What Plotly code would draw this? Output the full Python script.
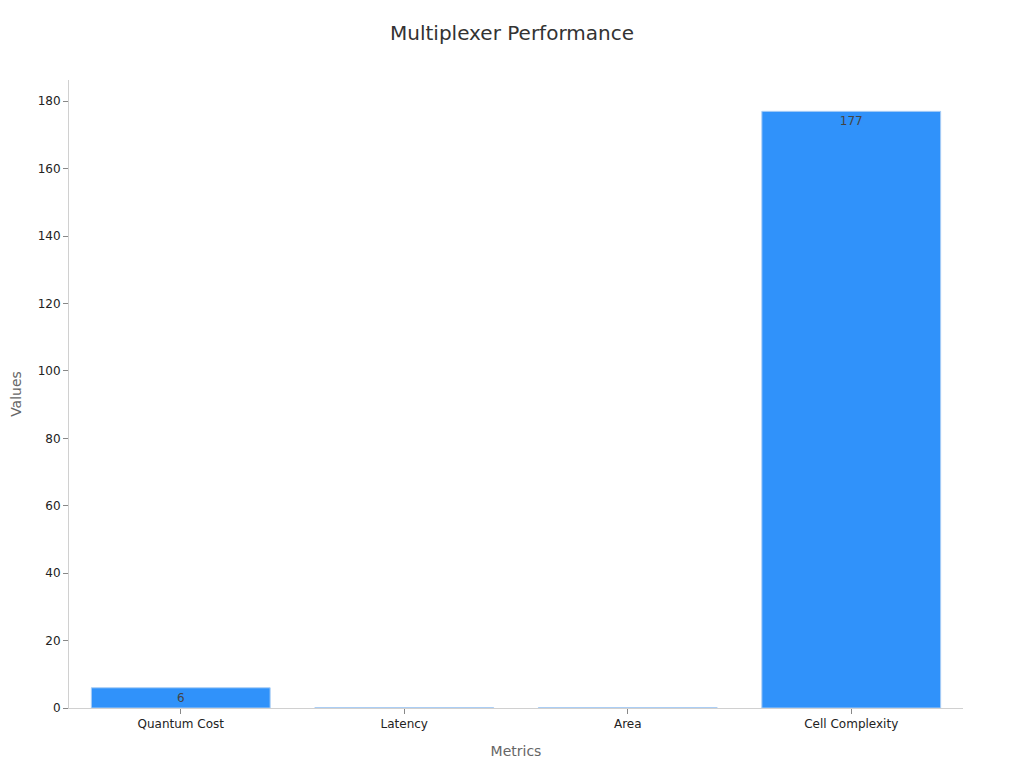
import plotly.graph_objects as go

metrics = ["Quantum Cost", "Latency", "Area", "Cell Complexity"]
values = [6, 0.1, 0.1, 177]
labels = ["6", "", "", "177"]

fig = go.Figure(go.Bar(
    x=metrics,
    y=values,
    text=labels,
    textposition="inside",
    insidetextanchor="end",
    textangle=0,
    textfont=dict(size=12, color="#444444"),
    marker=dict(color="#3092fa", line=dict(color="#a9cdf5", width=1)),
))

# page body has an 8px margin, so the figure is sized to fit inside it
fig.update_layout(
    width=1008,
    height=752,
    plot_bgcolor="#ffffff",
    paper_bgcolor="#ffffff",
    font=dict(family="DejaVu Sans, sans-serif", color="#222222", size=12),
    title=dict(text="Multiplexer Performance", x=0.5, xanchor="center",
               y=0.9668, yanchor="middle",
               font=dict(size=20, color="#333333")),
    margin=dict(l=61, r=53, t=72, b=52),
    showlegend=False,
    bargap=0.2,
    xaxis=dict(
        title=dict(text="Metrics", font=dict(size=14, color="#666666")),
        automargin=False,
        showline=True, linecolor="#d0d0d0", linewidth=1,
        ticks="outside", tickcolor="#888888", ticklen=5,
        showgrid=False,
    ),
    yaxis=dict(
        title=dict(text="Values", font=dict(size=14, color="#666666"), standoff=14),
        automargin=False,
        range=[0, 186.3],
        dtick=20,
        showline=True, linecolor="#d0d0d0", linewidth=1,
        ticks="outside", tickcolor="#888888", ticklen=5,
        showgrid=False, zeroline=False,
    ),
)

fig.write_html("out.html")
